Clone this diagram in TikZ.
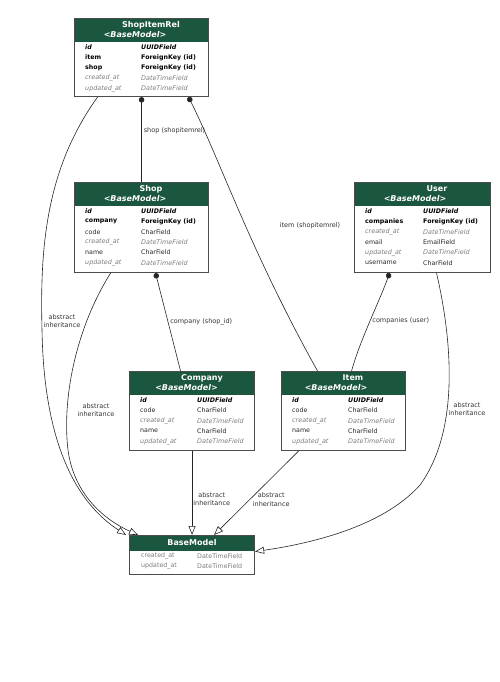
\documentclass[tikz,border=0pt]{standalone}
\usepackage{fontspec}
\setmainfont{DejaVu Sans}
\usetikzlibrary{arrows.meta}

\definecolor{headgreen}{HTML}{1B563F}
\definecolor{inhgray}{HTML}{7B7B7B}
\definecolor{labelgray}{HTML}{333333}

\tikzset{
  model/.style={draw=gray!60!black, line width=1.1pt, anchor=north west, inner sep=0},
  head/.style={fill=headgreen, anchor=north west, inner sep=0},
  mtitle/.style={text=white, font=\fontsize{8}{9}\selectfont\bfseries, inner sep=0},
  msub/.style={mtitle, font=\fontsize{8}{9}\selectfont\bfseries\itshape},
  row/.style={anchor=west, inner sep=0, font=\fontsize{6.3}{8}\selectfont, text=black},
  pk/.style={font=\fontsize{6.3}{8}\selectfont\bfseries\itshape},
  fk/.style={font=\fontsize{6.3}{8}\selectfont\bfseries},
  inh/.style={font=\fontsize{6.4}{8}\selectfont\itshape, text=inhgray},
  fplain/.style={text=black!85},
  fbase/.style={text=inhgray},
  fkline/.style={line width=0.6pt, draw=black!85, {Circle[length=5.5pt]}-},
  absline/.style={line width=0.6pt, draw=black!85, -{Triangle[open, length=9pt, width=7pt]}},
  lbl/.style={font=\fontsize{6.5}{8.5}\selectfont, text=labelgray, align=center, inner sep=0},
}

% box: name, x, y, width, header height, height
\newcommand{\model}[6]{
  \node[head, minimum width=#4pt-1.2pt, minimum height=#5pt-0.6pt] (#1-h) at (#2+0.6,#3+0.6) {};
  \node[model, minimum width=#4pt, minimum height=#6pt] (#1) at (#2,#3) {};
}
% rows: name, name column, type column, first row, list
\newcommand{\fields}[5]{
  \foreach \f/\t/\s [count=\i from 0] in {#5}{
    \node[row, \s] (#1-n\i) at (#2, #4+10.3*\i) {\f};
    \node[row, \s] (#1-t\i) at (#3, #4+10.3*\i) {\t};
  }
}

\begin{document}
\begin{tikzpicture}[x=1pt, y=-1pt]
\useasboundingbox (0,0) rectangle (500,682);

\model{shopitemrel}{74}{18}{134}{24}{78}
\node[mtitle] (shopitemrel-t) at (151,25) {ShopItemRel};
\node[msub] (shopitemrel-s) at (135,34.5) {<BaseModel>};
\fields{shopitemrel}{85}{141}{47.2}{id/UUIDField/pk, item/ForeignKey (id)/fk, shop/ForeignKey (id)/fk, created\_at/DateTimeField/inh, updated\_at/DateTimeField/inh}

\model{shop}{74}{182}{134}{24}{90}
\node[mtitle] (shop-t) at (151,189) {Shop};
\node[msub] (shop-s) at (135,198.5) {<BaseModel>};
\fields{shop}{85}{141}{211.2}{id/UUIDField/pk, company/ForeignKey (id)/fk, code/CharField/fplain, created\_at/DateTimeField/inh, name/CharField/fplain, updated\_at/DateTimeField/inh}

\model{user}{354}{182}{136}{24}{90}
\node[mtitle] (user-t) at (437,189) {User};
\node[msub] (user-s) at (415,198.5) {<BaseModel>};
\fields{user}{365}{423}{211.2}{id/UUIDField/pk, companies/ForeignKey (id)/fk, created\_at/DateTimeField/inh, email/EmailField/fplain, updated\_at/DateTimeField/inh, username/CharField/fplain}

\model{company}{129}{371}{125}{24}{79}
\node[mtitle] (company-t) at (202,378) {Company};
\node[msub] (company-s) at (186.5,387.5) {<BaseModel>};
\fields{company}{140}{197}{400.2}{id/UUIDField/pk, code/CharField/fplain, created\_at/DateTimeField/inh, name/CharField/fplain, updated\_at/DateTimeField/inh}

\model{item}{281}{371}{124}{24}{79}
\node[mtitle] (item-t) at (353,378) {Item};
\node[msub] (item-s) at (336,387.5) {<BaseModel>};
\fields{item}{292}{348}{400.2}{id/UUIDField/pk, code/CharField/fplain, created\_at/DateTimeField/inh, name/CharField/fplain, updated\_at/DateTimeField/inh}

\model{basemodel}{129}{535}{125}{16}{39}
\node[mtitle] (basemodel-t) at (192,543) {BaseModel};
\fields{basemodel}{141}{197}{556}{created\_at/DateTimeField/fbase, updated\_at/DateTimeField/fbase}

% foreign keys
\draw[fkline] (shopitemrel.south) -- (shop.north) node[lbl, pos=0.4, anchor=west, xshift=2pt] {shop (shopitemrel)};
\draw[fkline] ([xshift=47pt]shopitemrel.south) .. controls (220,160) and (250,250) .. ([xshift=-26pt]item.north);
\node[lbl] (item-lbl) at (310,226) {item (shopitemrel)};
\draw[fkline] ([xshift=14pt]shop.south) -- ([xshift=-11.5pt]company.north) node[lbl, pos=0.5, anchor=west, xshift=2pt] {company (shop\_id)};
\draw[fkline] ([xshift=-33pt]user.south) .. controls (380,300) and (360,340) .. ([xshift=8pt]item.north) node[lbl, pos=0.5, anchor=west, xshift=2pt] {companies (user)};

% abstract inheritance
\draw[absline] ([xshift=-44pt]shopitemrel.south) .. controls (45,170) and (40,250) .. (42,330) .. controls (44,450) and (80,505) .. ([xshift=-66pt]basemodel.north);
\node[lbl] (sir-abs) at (62,321) {abstract\\inheritance};
\draw[absline] ([xshift=-31pt]shop.south) .. controls (75,330) and (62,400) .. (68,450) .. controls (74,495) and (105,520) .. ([xshift=-54pt]basemodel.north);
\node[lbl] (shop-abs) at (96,410) {abstract\\inheritance};
\draw[absline] (company.south) -- (basemodel.north) node[lbl, pos=0.57, anchor=west, xshift=1pt] {abstract\\inheritance};
\draw[absline] ([xshift=-45pt]item.south) -- ([xshift=22pt]basemodel.north) node[lbl, pos=0.58, anchor=west, xshift=3pt] {abstract\\inheritance};
\draw[absline] ([xshift=14pt]user.south) .. controls (452,340) and (460,430) .. (420,485) .. controls (380,530) and (300,545) .. ([yshift=3.5pt]basemodel.east);
\node[lbl] (user-abs) at (467,409) {abstract\\inheritance};
\end{tikzpicture}
\end{document}
